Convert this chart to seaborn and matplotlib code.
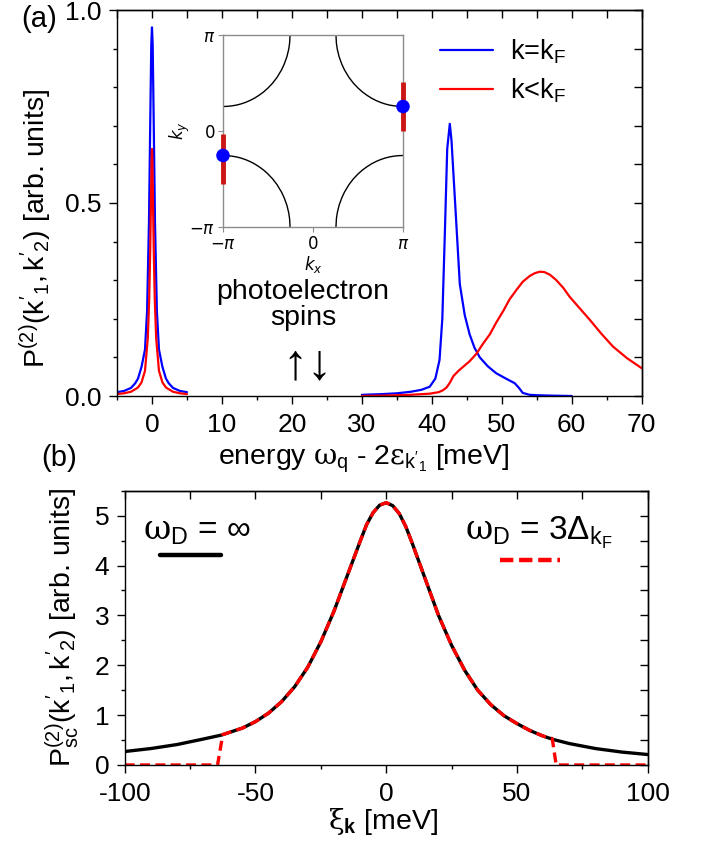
import numpy as np
import pandas as pd
import matplotlib
matplotlib.use("Agg")
import matplotlib.pyplot as plt
from matplotlib.ticker import MultipleLocator, NullFormatter
from matplotlib.lines import Line2D
import seaborn as sns

# ---------------- data: panel (a) ----------------
blue_peak_x = [-5, -4, -3, -2.4, -2, -1.5, -1, -0.7, -0.43, -0.24, -0.1, 0,
               0.1, 0.24, 0.43, 0.7, 1, 1.5, 2, 2.4, 3, 4, 5]
blue_peak_y = [0.010, 0.013, 0.021, 0.033, 0.045, 0.075, 0.12, 0.22, 0.45, 0.72, 0.91, 0.955,
               0.91, 0.72, 0.45, 0.22, 0.12, 0.075, 0.045, 0.033, 0.021, 0.013, 0.010]
red_peak_x = [-5, -4, -3, -2, -1.5, -1, -0.6, -0.4, -0.25, -0.14, -0.05, 0,
              0.05, 0.14, 0.25, 0.4, 0.6, 1, 1.5, 2, 3, 4, 5]
red_peak_y = [0.005, 0.007, 0.011, 0.022, 0.035, 0.065, 0.15, 0.25, 0.38, 0.51, 0.61, 0.64,
              0.61, 0.51, 0.38, 0.25, 0.15, 0.065, 0.035, 0.022, 0.011, 0.007, 0.005]
blue_band_x = [30, 33, 35, 37, 38.5, 39.7, 40.5, 41.1, 41.5, 41.86, 42.2, 42.57, 42.81, 43.3,
               44.0, 44.7, 45.4, 46.1, 46.86, 48, 49.2, 50.5, 51.86, 52.5, 53.0, 54, 55, 57, 60]
blue_band_y = [0.003, 0.005, 0.007, 0.011, 0.016, 0.024, 0.045, 0.093, 0.20, 0.42, 0.64, 0.705, 0.663, 0.51,
               0.29, 0.21, 0.16, 0.125, 0.10, 0.077, 0.059, 0.046, 0.033, 0.02, 0.008, 0.003, 0.002, 0.001, 0.0]
red_band_x = [30, 33, 36.8, 39.7, 41, 41.6, 42.1, 42.6, 43.1, 43.8, 44.5, 45.4, 46.4, 47.3, 48.3,
              49.2, 50.2, 51.1, 52.1, 53.0, 54.0, 54.7, 55.4, 56.1, 56.9, 57.8, 58.8, 59.7, 61.1,
              62.6, 64.2, 65.9, 67.9, 70]
red_band_y = [0.0, 0.001, 0.003, 0.006, 0.01, 0.015, 0.022, 0.035, 0.052, 0.065, 0.076, 0.09, 0.11, 0.135, 0.16,
              0.19, 0.22, 0.25, 0.275, 0.296, 0.311, 0.318, 0.322, 0.321, 0.314, 0.30, 0.28, 0.257, 0.228,
              0.197, 0.162, 0.128, 0.098, 0.072]
series_labels = [r"k=k$_\mathrm{F}$", r"k<k$_\mathrm{F}$"]

# inset: one quarter of the Fermi surface (units of pi), mirrored to the 4 corners
arc_kx = [-1.0, -0.95, -0.9, -0.85, -0.8, -0.75, -0.7, -0.65, -0.6, -0.55, -0.5, -0.45,
          -0.4, -0.35, -0.32, -0.29, -0.27, -0.26, -0.255]
arc_ky = [0.255, 0.257, 0.262, 0.270, 0.282, 0.298, 0.318, 0.342, 0.372, 0.406, 0.448, 0.497,
          0.558, 0.636, 0.696, 0.774, 0.851, 0.914, 1.0]
arc_signs = [(1, 1), (-1, 1), (1, -1), (-1, -1)]
dot_kx = [-1.0, 1.0]
dot_ky = [-0.255, 0.255]
bar_kx = [-1.0, 1.0]
bar_lo = [-0.55, 0.0]
bar_hi = [-0.03, 0.51]

# ---------------- data: panel (b) ----------------
xi_black = [-100, -90, -80, -70, -63, -55, -50, -45, -40, -35, -30, -25, -20, -15, -10, -7.5, -5, -2.5,
            0, 2.5, 5, 7.5, 10, 15, 20, 25, 30, 35, 40, 45, 50, 55, 60, 64, 70, 80, 90, 100]
p_black = [0.27, 0.33, 0.41, 0.52, 0.60, 0.74, 0.87, 1.04, 1.27, 1.57, 1.96, 2.47, 3.08, 3.78, 4.48, 4.82, 5.06, 5.21,
           5.26, 5.20, 5.04, 4.78, 4.44, 3.72, 3.00, 2.40, 1.90, 1.50, 1.21, 0.99, 0.83, 0.69, 0.58, 0.51, 0.43, 0.33, 0.26, 0.21]
xi_red = [-100, -64.5, -62.5, -55, -50, -45, -40, -35, -30, -25, -20, -15, -10, -7.5, -5, -2.5,
          0, 2.5, 5, 7.5, 10, 15, 20, 25, 30, 35, 40, 45, 50, 55, 60, 63.5, 65, 100]
p_red = [0.0, 0.0, 0.61, 0.74, 0.87, 1.04, 1.27, 1.57, 1.96, 2.47, 3.08, 3.78, 4.48, 4.82, 5.06, 5.21,
         5.26, 5.20, 5.04, 4.78, 4.44, 3.72, 3.00, 2.40, 1.90, 1.50, 1.21, 0.99, 0.83, 0.69, 0.58, 0.53, 0.0, 0.0]

# ---------------- style ----------------
sns.set_theme(style="ticks")
plt.rcParams["font.family"] = ["Liberation Sans", "DejaVu Sans"]
plt.rcParams.update({
    "mathtext.fontset": "custom",
    "mathtext.rm": "Liberation Sans",
    "mathtext.it": "Liberation Sans:italic",
    "mathtext.bf": "Liberation Sans:bold",
    "mathtext.sf": "DejaVu Serif",
    "text.color": "black",
    "axes.labelcolor": "black",
    "axes.edgecolor": "black",
    "xtick.color": "black",
    "ytick.color": "black",
    "axes.linewidth": 1.0,
    "axes.unicode_minus": False,
})
TICK_FS = 19
LAB_FS = 20.5

fig = plt.figure(figsize=(7.05, 8.41), dpi=100)
W, H = 705.0, 841.0
axA = fig.add_axes([117 / W, 1 - 396 / H, 524.7 / W, 386 / H])
axB = fig.add_axes([124.7 / W, 1 - 765 / H, 523 / W, 274.3 / H])
axIn = fig.add_axes([223 / W, 1 - 227 / H, 180 / W, 192 / H])


def style_axes(ax, xmaj, xmin, ymaj, ymin):
    ax.xaxis.set_major_locator(MultipleLocator(xmaj))
    ax.xaxis.set_minor_locator(MultipleLocator(xmin))
    ax.yaxis.set_major_locator(MultipleLocator(ymaj))
    ax.yaxis.set_minor_locator(MultipleLocator(ymin))
    ax.tick_params(which="major", direction="out", length=6, width=1, labelsize=TICK_FS,
                   top=False, right=False)
    ax.tick_params(axis="x", which="major", pad=6.5)
    ax.tick_params(axis="y", which="major", pad=5)
    ax.tick_params(which="minor", direction="out", length=3, width=1, top=False, right=False)
    for s in ax.spines.values():
        s.set_visible(True)
        s.set_linewidth(1.0)
        s.set_color("black")
    sx = ax.secondary_xaxis("top")
    sx.xaxis.set_major_locator(MultipleLocator(xmin))
    sx.xaxis.set_major_formatter(NullFormatter())
    sx.tick_params(direction="in", length=6, width=1)
    sy = ax.secondary_yaxis("right")
    sy.yaxis.set_major_locator(MultipleLocator(ymin))
    sy.yaxis.set_major_formatter(NullFormatter())
    sy.tick_params(direction="in", length=6, width=1)


# ---------------- panel (a) ----------------
sns.lineplot(x=blue_peak_x, y=blue_peak_y, ax=axA, color="#0000ff", lw=1.6, sort=False,
             estimator=None, label=series_labels[0])
sns.lineplot(x=blue_band_x, y=blue_band_y, ax=axA, color="#0000ff", lw=1.6, sort=False,
             estimator=None)
sns.lineplot(x=red_peak_x, y=red_peak_y, ax=axA, color="#ff0000", lw=1.6, sort=False,
             estimator=None, label=series_labels[1])
sns.lineplot(x=red_band_x, y=red_band_y, ax=axA, color="#ff0000", lw=1.6, sort=False,
             estimator=None)
axA.set_xlim(-5, 70)
axA.set_ylim(0, 1.0)
style_axes(axA, 10, 5, 0.5, 0.1)
axA.set_xlabel(r"energy $\mathsf{\omega}_\mathrm{q}$ - 2$\mathsf{\varepsilon}_{\mathrm{k}'_1}$ [meV]",
               fontsize=LAB_FS)
axA.set_ylabel(r"$\mathrm{P^{(2)}(k'_1,k'_2)}$ [arb. units]", fontsize=LAB_FS)
axA.xaxis.set_label_coords((364 - 117) / 524.7, -(443 - 396) / 386)
axA.yaxis.set_label_coords((54 - 117) / 524.7, (396 - 228) / 386)
axA.legend(loc="upper left", bbox_to_anchor=(440 / W, 1 - 37 / H), bbox_transform=fig.transFigure,
           frameon=False, handlelength=1.95, handletextpad=0.62, borderpad=0, borderaxespad=0,
           labelspacing=0.4, fontsize=19.5)
axA.text(21.6, 0.236, "photoelectron\nspins", ha="center", va="center", fontsize=LAB_FS,
         linespacing=1.0)
axA.text(22.2, 0.078, "\u2191\u2193", ha="center", va="center", fontsize=36)

# ---------------- inset ----------------
for sx_, sy_ in arc_signs:
    sns.lineplot(x=[sx_ * v for v in arc_kx], y=[sy_ * v for v in arc_ky], ax=axIn,
                 color="black", lw=1.0, sort=False, estimator=None)
axIn.vlines(bar_kx, bar_lo, bar_hi, color="#cc1515", lw=3.5, clip_on=False, zorder=4)
sns.scatterplot(x=dot_kx, y=dot_ky, ax=axIn, color="#0000ff", s=95, edgecolor="none",
                clip_on=False, zorder=5)
axIn.set_xlim(-1, 1)
axIn.set_ylim(-1, 1)
for s in axIn.spines.values():
    s.set_visible(True)
    s.set_color("0.55")
    s.set_linewidth(1.0)
axIn.set_xticks([-1, 0, 1], labels=[r"$-\pi$", "0", r"$\pi$"], fontsize=12,
                family="DejaVu Sans", math_fontfamily="dejavusans")
axIn.set_yticks([-1, 0, 1], labels=[r"$-\pi$", "0", r"$\pi$"], fontsize=12,
                family="DejaVu Sans", math_fontfamily="dejavusans")
axIn.tick_params(direction="out", length=3.5, width=0.8, color="0.55", pad=2)
axIn.set_xlabel(r"$k_x$", fontsize=12, math_fontfamily="dejavusans", labelpad=1)
axIn.set_ylabel(r"$k_y$", fontsize=12, math_fontfamily="dejavusans", labelpad=-2)
axIn.set_facecolor("white")

# ---------------- panel (b) ----------------
sns.lineplot(x=xi_black, y=p_black, ax=axB, color="black", lw=2.4, sort=False, estimator=None)
sns.lineplot(x=xi_red, y=p_red, ax=axB, color="#ff0000", lw=2.4, sort=False, estimator=None,
             linestyle=(0, (3, 1.6)))
axB.set_xlim(-100, 100)
axB.set_ylim(0, 5.5)
style_axes(axB, 50, 25, 1, 0.5)
axB.set_xlabel(r"$\mathsf{\xi}_{\mathbf{k}}$ [meV]", fontsize=LAB_FS)
axB.set_ylabel(r"$\mathrm{P^{(2)}_{sc}(k'_1,k'_2)}$ [arb. units]", fontsize=LAB_FS)
axB.xaxis.set_label_coords((383 - 124.7) / 523, -(806 - 765) / 274.3)
axB.yaxis.set_label_coords((82 - 124.7) / 523, 0.5)

axB.text((143 - 124.7) / 523, (765 - 540) / 274.3,
         r"$\mathsf{\omega}_\mathrm{D}$ = $\infty$", transform=axB.transAxes,
         ha="left", va="baseline", fontsize=24)
axB.text((465 - 124.7) / 523, (765 - 540) / 274.3,
         r"$\mathsf{\omega}_\mathrm{D}$ = 3$\Delta_\mathrm{k_F}$", transform=axB.transAxes,
         ha="left", va="baseline", fontsize=24)
legB1 = axB.legend(handles=[Line2D([], [], color="black", lw=3.2)], labels=[""],
                   loc="center left", bbox_to_anchor=(160 / W, 1 - 558 / H),
                   bbox_transform=fig.transFigure, frameon=False, handlelength=2.14,
                   handletextpad=0, borderpad=0, borderaxespad=0, fontsize=LAB_FS)
axB.add_artist(legB1)
axB.legend(handles=[Line2D([], [], color="#ff0000", lw=3.2, linestyle=(0, (3, 1.3)))], labels=[""],
           loc="center left", bbox_to_anchor=(500 / W, 1 - 563 / H),
           bbox_transform=fig.transFigure, frameon=False, handlelength=2.1,
           handletextpad=0, borderpad=0, borderaxespad=0, fontsize=LAB_FS)

fig.text(39 / W, 1 - 19 / H, "(a)", ha="center", va="center", fontsize=21)
fig.text(59 / W, 1 - 458 / H, "(b)", ha="center", va="center", fontsize=21)

fig.savefig("out.png", dpi=100)
